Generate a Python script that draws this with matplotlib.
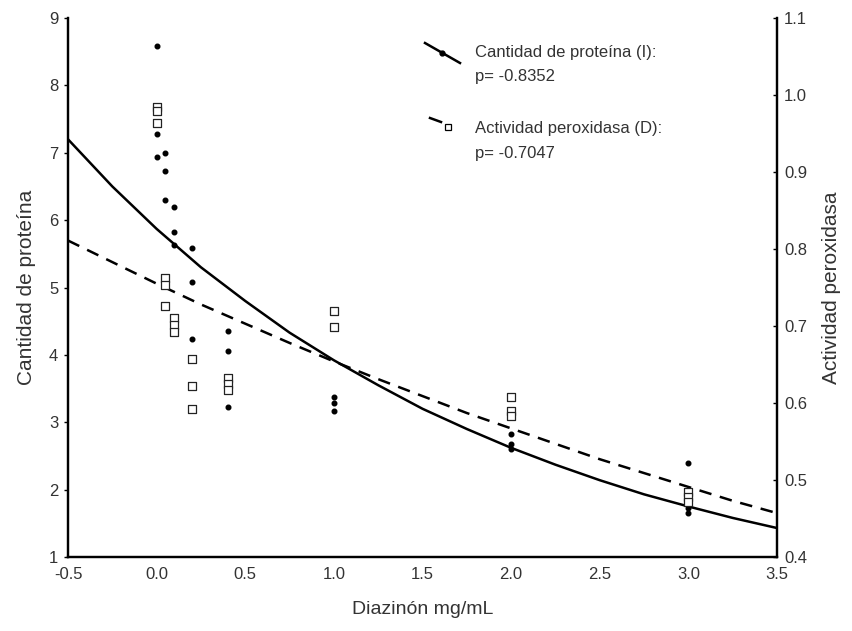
import matplotlib
matplotlib.use("Agg")
import matplotlib.pyplot as plt
from matplotlib.lines import Line2D

plt.rcParams['font.family'] = ['Liberation Sans', 'DejaVu Sans']

# Scatter data: protein amount (left axis)
prot_x = [0, 0, 0, 0.05, 0.05, 0.05, 0.1, 0.1, 0.1, 0.2, 0.2, 0.2,
          0.4, 0.4, 0.4, 1, 1, 1, 2, 2, 2, 3, 3, 3]
prot_y = [8.59, 7.28, 6.93, 7.00, 6.73, 6.30, 6.19, 5.82, 5.63, 5.59, 5.08, 4.23,
          4.36, 4.06, 3.23, 3.37, 3.29, 3.17, 2.83, 2.68, 2.60, 2.39, 1.72, 1.65]

# Scatter data: peroxidase activity (right axis)
perox_x = [0, 0, 0, 0.05, 0.05, 0.05, 0.1, 0.1, 0.1, 0.2, 0.2, 0.2,
           0.4, 0.4, 0.4, 1, 1, 2, 2, 2, 3, 3, 3]
perox_y = [0.985, 0.979, 0.964, 0.762, 0.753, 0.726, 0.710, 0.701, 0.692,
           0.657, 0.622, 0.592, 0.633, 0.625, 0.617, 0.719, 0.699,
           0.608, 0.589, 0.583, 0.485, 0.478, 0.472]

# Fitted curves
curve_x = [-0.5, -0.25, 0, 0.25, 0.5, 0.75, 1.0, 1.25, 1.5, 1.75, 2.0,
           2.25, 2.5, 2.75, 3.0, 3.25, 3.5]
prot_fit = [7.20, 6.50, 5.87, 5.30, 4.80, 4.33, 3.92, 3.55, 3.20, 2.90, 2.62,
            2.37, 2.14, 1.93, 1.75, 1.58, 1.43]
perox_fit = [0.811, 0.783, 0.755, 0.728, 0.703, 0.678, 0.654, 0.631, 0.609,
             0.587, 0.567, 0.547, 0.527, 0.509, 0.491, 0.473, 0.457]

xticks = [-0.5, 0.0, 0.5, 1.0, 1.5, 2.0, 2.5, 3.0, 3.5]
lticks = [1, 2, 3, 4, 5, 6, 7, 8, 9]
rticks = [0.4, 0.5, 0.6, 0.7, 0.8, 0.9, 1.0, 1.1]

fig = plt.figure(figsize=(8.53, 6.31), dpi=100)
ax = fig.add_axes([68/853, 1-557/631, (777-68)/853, (557-18)/631])
ax2 = ax.twinx()

fs = 12
tc = '#333333'
ax.plot(curve_x, prot_fit, color='black', lw=1.8, zorder=3)
ax.scatter(prot_x, prot_y, s=11, color='black', marker='o', zorder=4)
ax2.plot(curve_x, perox_fit, color='black', lw=1.8, dashes=(5, 3.5), zorder=3)
ax2.scatter(perox_x, perox_y, s=38, facecolors='white', edgecolors='#222222',
            marker='s', linewidths=0.9, zorder=4)

ax.set_xlim(-0.5, 3.5)
ax.set_ylim(1, 9)
ax2.set_ylim(0.4, 1.1)
ax.set_xticks(xticks)
ax.set_xticklabels([f"{v:.1f}" for v in xticks], fontsize=fs, color=tc)
ax.set_yticks(lticks)
ax.set_yticklabels([str(v) for v in lticks], fontsize=fs, color=tc)
ax2.set_yticks(rticks)
ax2.set_yticklabels([f"{v:.1f}" for v in rticks], fontsize=fs, color=tc)

for a in (ax, ax2):
    a.spines['top'].set_visible(False)
    for s in ('left', 'bottom', 'right'):
        a.spines[s].set_linewidth(1.6)
ax.tick_params(axis='y', direction='out', length=3, width=1, pad=4)
ax.tick_params(axis='x', direction='in', length=0, pad=7)
ax2.tick_params(axis='y', direction='in', length=3, width=1, pad=5)

ax.set_xlabel("Diazinón mg/mL", fontsize=14, labelpad=14, color=tc)
ax.set_ylabel("Cantidad de proteína", fontsize=15, labelpad=9, color=tc)
ax2.set_ylabel("Actividad peroxidasa", fontsize=15, labelpad=11, color=tc)

# Legend drawn manually in figure coordinates
h1 = Line2D([425/853, 460/853], [1-43/631, 1-63/631], transform=fig.transFigure,
            color='black', lw=1.8)
fig.add_artist(h1)
fig.add_artist(Line2D([442/853], [1-53/631], transform=fig.transFigure,
                      marker='o', color='black', markersize=3.5))
h2 = Line2D([430/853, 441/853], [1-118/631, 1-122/631], transform=fig.transFigure,
            color='black', lw=1.8)
fig.add_artist(h2)
fig.add_artist(Line2D([448/853], [1-127/631], transform=fig.transFigure,
                      marker='s', markerfacecolor='white', markeredgecolor='black',
                      markersize=5, markeredgewidth=0.9))
fig.text(475/853, 1-53/631, "Cantidad de proteína (I):", fontsize=fs, va='center', color=tc)
fig.text(475/853, 1-77/631, "p= -0.8352", fontsize=fs, va='center', color=tc)
fig.text(475/853, 1-129/631, "Actividad peroxidasa (D):", fontsize=fs, va='center', color=tc)
fig.text(475/853, 1-154/631, "p= -0.7047", fontsize=fs, va='center', color=tc)

fig.savefig("out.png", dpi=100)
